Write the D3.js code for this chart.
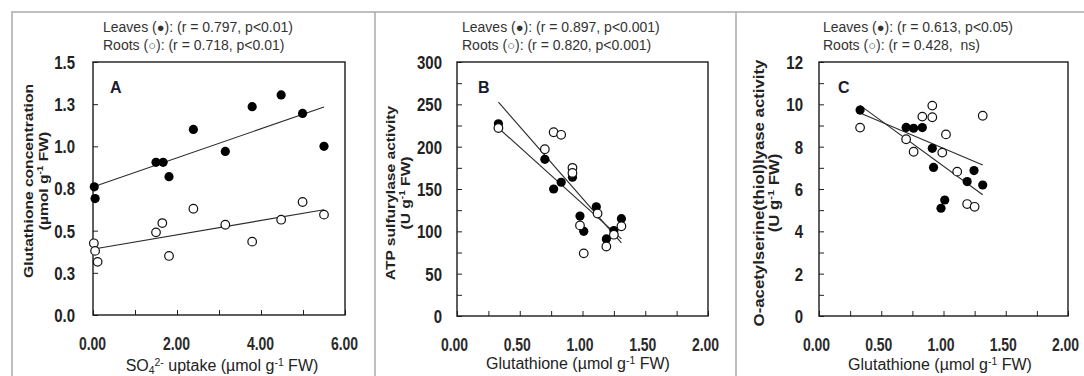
<!DOCTYPE html>
<html>
<head>
<meta charset="utf-8">
<script src="https://cdn.jsdelivr.net/npm/d3@7"></script>
<style>
  body { margin: 0; background: #fff; }
  svg { display: block; font-family: "Liberation Sans", Arial, sans-serif; }
</style>
</head>
<body>
<svg width="1084" height="376"></svg>
<script>
// values
var panelLetters = ["A", "B", "C"];

var aLeavesX = [0.03, 0.05, 1.50, 1.67, 1.81, 2.39, 3.15, 3.79, 4.48, 4.99, 5.50];
var aLeavesY = [0.76, 0.69, 0.905, 0.905, 0.82, 1.10, 0.97, 1.235, 1.305, 1.195, 1.00];
var aRootsX = [0.02, 0.05, 0.11, 1.50, 1.65, 1.81, 2.39, 3.15, 3.79, 4.48, 4.99, 5.50];
var aRootsY = [0.425, 0.38, 0.315, 0.49, 0.545, 0.35, 0.63, 0.535, 0.435, 0.565, 0.67, 0.595];

var bLeavesX = [0.33, 0.70, 0.77, 0.83, 0.92, 0.98, 1.01, 1.11, 1.19, 1.25, 1.31];
var bLeavesY = [227, 185, 150, 158, 164, 118, 100, 129, 91, 101, 115];
var bRootsX = [0.33, 0.70, 0.77, 0.83, 0.92, 0.92, 0.98, 1.01, 1.12, 1.19, 1.25, 1.31];
var bRootsY = [222, 197, 217, 214, 175, 169, 107, 74, 121, 82, 96, 106];

var cLeavesX = [0.33, 0.70, 0.76, 0.83, 0.91, 0.92, 0.98, 1.01, 1.19, 1.245, 1.315];
var cLeavesY = [9.73, 8.91, 8.87, 8.90, 7.92, 7.02, 5.09, 5.48, 6.35, 6.87, 6.19];
var cRootsX = [0.33, 0.70, 0.76, 0.83, 0.91, 0.91, 0.99, 1.02, 1.11, 1.19, 1.25, 1.315];
var cRootsY = [8.90, 8.35, 7.76, 9.42, 9.94, 9.39, 7.72, 8.58, 6.82, 5.29, 5.16, 9.46];

// ticks
var aXTicks = [0, 1, 2, 3, 4, 5, 6];
var aXLabels = ["0.00", "", "2.00", "", "4.00", "", "6.00"];
var aYTicks = [0, 0.25, 0.5, 0.75, 1.0, 1.25, 1.5];
var aYLabels = ["0.0", "0.3", "0.5", "0.8", "1.0", "1.3", "1.5"];

var glXTicks = [0, 0.25, 0.5, 0.75, 1.0, 1.25, 1.5, 1.75, 2.0];
var glXLabels = ["0.00", "", "0.50", "", "1.00", "", "1.50", "", "2.00"];

var bYTicks = [0, 25, 50, 75, 100, 125, 150, 175, 200, 225, 250, 275, 300];
var bYLabels = ["0", "", "50", "", "100", "", "150", "", "200", "", "250", "", "300"];

var cYTicks = [0, 1, 2, 3, 4, 5, 6, 7, 8, 9, 10, 11, 12];
var cYLabels = ["0", "", "2", "", "4", "", "6", "", "8", "", "10", "", "12"];

var leavesStats = ["(r = 0.797, p<0.01)", "(r = 0.897, p<0.001)", "(r = 0.613, p<0.05)"];
var rootsStats = ["(r = 0.718, p<0.01)", "(r = 0.820, p<0.001)", "(r = 0.428,\u00a0 ns)"];

var yTitles = [
  ["Glutathione concentration", [{t: "(µmol g"}, {t: "-1", sup: true}, {t: " FW)"}]],
  ["ATP sulfurylase activity", [{t: "(U g"}, {t: "-1", sup: true}, {t: " FW)"}]],
  ["O-acetylserine(thiol)lyase activity", [{t: "(U g"}, {t: "-1", sup: true}, {t: " FW)"}]]
];
var xTitles = [
  [{t: "SO"}, {t: "4", sub: true}, {t: "2-", sup: true}, {t: " uptake (µmol g"}, {t: "-1", sup: true}, {t: " FW)"}],
  [{t: "Glutathione (µmol g"}, {t: "-1", sup: true}, {t: " FW)"}],
  [{t: "Glutathione (µmol g"}, {t: "-1", sup: true}, {t: " FW)"}]
];

var svg = d3.select("svg");
var S = 1.2; // the figure is slightly stretched vertically

svg.append("rect").attr("width", 1084).attr("height", 376).attr("fill", "#fff");

// outer frame and dividers
svg.append("rect")
  .attr("x", 12).attr("y", 12).attr("width", 1100).attr("height", 400)
  .attr("fill", "none").attr("stroke", "#aaa").attr("stroke-width", 1.5);
[375, 736].forEach(function(x) {
  svg.append("line").attr("x1", x).attr("x2", x).attr("y1", 12).attr("y2", 376)
    .attr("stroke", "#aaa").attr("stroke-width", 1.5);
});

var panels = [
  {left: 93, right: 345, top: 62, bottom: 315, xMax: 6, yMax: 1.5,
   xTicks: aXTicks, xLabels: aXLabels, yTicks: aYTicks, yLabels: aYLabels,
   leavesX: aLeavesX, leavesY: aLeavesY, rootsX: aRootsX, rootsY: aRootsY,
   yGap: 18, yt1: 33, yt2: 48, ytY: 181, legendX: 103, xTitleX: 222, xTitleY: 371, labelX: 110},
  {left: 457, right: 708, top: 62, bottom: 316, xMax: 2, yMax: 300,
   xTicks: glXTicks, xLabels: glXLabels, yTicks: bYTicks, yLabels: bYLabels,
   leavesX: bLeavesX, leavesY: bLeavesY, rootsX: bRootsX, rootsY: bRootsY,
   yGap: 15, yt1: 395, yt2: 410, ytY: 193, legendX: 462, xTitleX: 578, xTitleY: 369, labelX: 478},
  {left: 819, right: 1068, top: 62, bottom: 316, xMax: 2, yMax: 12,
   xTicks: glXTicks, xLabels: glXLabels, yTicks: cYTicks, yLabels: cYLabels,
   leavesX: cLeavesX, leavesY: cLeavesY, rootsX: cRootsX, rootsY: cRootsY,
   yGap: 16, yt1: 764, yt2: 779, ytY: 193, legendX: 823, xTitleX: 940, xTitleY: 370, labelX: 838}
];

function rich(text, parts) {
  var cur = 0;
  parts.forEach(function(p) {
    var target = p.sup ? -5 : (p.sub ? 3 : 0);
    var ts = text.append("tspan").attr("dy", target - cur).text(p.t);
    if (p.sup || p.sub) ts.attr("font-size", "0.65em");
    cur = target;
  });
}

function fit(xs, ys) {
  var mx = d3.mean(xs), my = d3.mean(ys);
  var sxy = d3.sum(xs, function(x, i) { return (x - mx) * (ys[i] - my); });
  var sxx = d3.sum(xs, function(x) { return (x - mx) * (x - mx); });
  var b = sxy / sxx;
  return {a: my - b * mx, b: b};
}

panels.forEach(function(p, k) {
  var x = d3.scaleLinear().domain([0, p.xMax]).range([p.left, p.right]);
  var y = d3.scaleLinear().domain([0, p.yMax]).range([p.bottom, p.top]);
  var g = svg.append("g");

  // x axis (ticks inward)
  var xAxis = d3.axisBottom(x).tickValues(p.xTicks).tickSize(-5)
    .tickFormat(function(d, i) { return p.xLabels[i]; });
  var xg = g.append("g").attr("transform", "translate(0," + p.bottom + ")").call(xAxis);
  xg.select(".domain").remove();
  xg.selectAll(".tick line").attr("stroke", "#222");
  xg.selectAll(".tick text")
    .attr("y", null).attr("dy", null)
    .attr("transform", "translate(" + (k ? -3 : -1) + ",35) scale(1," + 1.25 + ")")
    .attr("font-size", 14).attr("font-weight", "bold").attr("fill", "#2a2a2a");

  // y axis
  var yAxis = d3.axisLeft(y).tickValues(p.yTicks).tickSize(-5)
    .tickFormat(function(d, i) { return p.yLabels[i]; });
  var yg = g.append("g").attr("transform", "translate(" + p.left + ",0)").call(yAxis);
  yg.select(".domain").remove();
  yg.selectAll(".tick line").attr("stroke", "#222");
  yg.selectAll(".tick text")
    .attr("x", -p.yGap).attr("dy", null)
    .attr("transform", "translate(0,6.4) scale(1," + S + ")")
    .attr("font-size", 15).attr("font-weight", "bold").attr("fill", "#222");

  // frame
  g.append("rect")
    .attr("x", p.left).attr("y", p.top)
    .attr("width", p.right - p.left).attr("height", p.bottom - p.top)
    .attr("fill", "none").attr("stroke", "#1a1a1a").attr("stroke-width", 1.4);

  // regression lines
  var line = d3.line().x(function(d) { return x(d[0]); }).y(function(d) { return y(d[1]); });
  [[p.leavesX, p.leavesY], [p.rootsX, p.rootsY]].forEach(function(s) {
    var f = fit(s[0], s[1]);
    var x0 = d3.min(s[0]), x1 = d3.max(s[0]);
    g.append("path")
      .attr("d", line([[x0, f.a + f.b * x0], [x1, f.a + f.b * x1]]))
      .attr("fill", "none").attr("stroke", "#2a2a2a").attr("stroke-width", 1.1);
  });

  // points
  g.selectAll(".leaf").data(p.leavesX).enter().append("circle")
    .attr("cx", function(d) { return x(d); })
    .attr("cy", function(d, i) { return y(p.leavesY[i]); })
    .attr("r", 4.6).attr("fill", "#000");
  g.selectAll(".root").data(p.rootsX).enter().append("circle")
    .attr("cx", function(d) { return x(d); })
    .attr("cy", function(d, i) { return y(p.rootsY[i]); })
    .attr("r", 4.3).attr("fill", "#fff").attr("stroke", "#111").attr("stroke-width", 1.2);

  // panel letter
  g.append("text").attr("x", p.labelX).attr("y", 93)
    .attr("font-size", 16).attr("font-weight", "bold").attr("fill", "#1b1b30")
    .text(panelLetters[k]);

  // legend text
  var l1 = g.append("text").attr("x", p.legendX).attr("y", 32)
    .attr("font-size", 14).attr("fill", "#333");
  l1.append("tspan").text("Leaves (");
  l1.append("tspan").attr("font-size", 13).text("●");
  l1.append("tspan").text("): " + leavesStats[k]);
  var l2 = g.append("text").attr("x", p.legendX).attr("y", 50)
    .attr("font-size", 14).attr("fill", "#333");
  l2.append("tspan").text("Roots (");
  l2.append("tspan").attr("font-size", 13).text("○");
  l2.append("tspan").text("): " + rootsStats[k]);

  // y title
  g.append("text")
    .attr("transform", "translate(" + p.yt1 + "," + p.ytY + ") scale(1," + S + ") rotate(-90)")
    .attr("text-anchor", "middle").attr("font-size", k === 2 ? 14 : 13)
    .attr("font-weight", "bold").attr("fill", "#222")
    .text(yTitles[k][0]);
  var yt2 = g.append("text")
    .attr("transform", "translate(" + p.yt2 + "," + p.ytY + ") scale(1," + S + ") rotate(-90)")
    .attr("text-anchor", "middle").attr("font-size", k === 2 ? 14 : 13)
    .attr("font-weight", "bold").attr("fill", "#222");
  rich(yt2, yTitles[k][1]);

  // x title
  var xt = g.append("text").attr("x", p.xTitleX).attr("y", p.xTitleY)
    .attr("text-anchor", "middle").attr("font-size", 16).attr("fill", "#222");
  rich(xt, xTitles[k]);
});
</script>
</body>
</html>
